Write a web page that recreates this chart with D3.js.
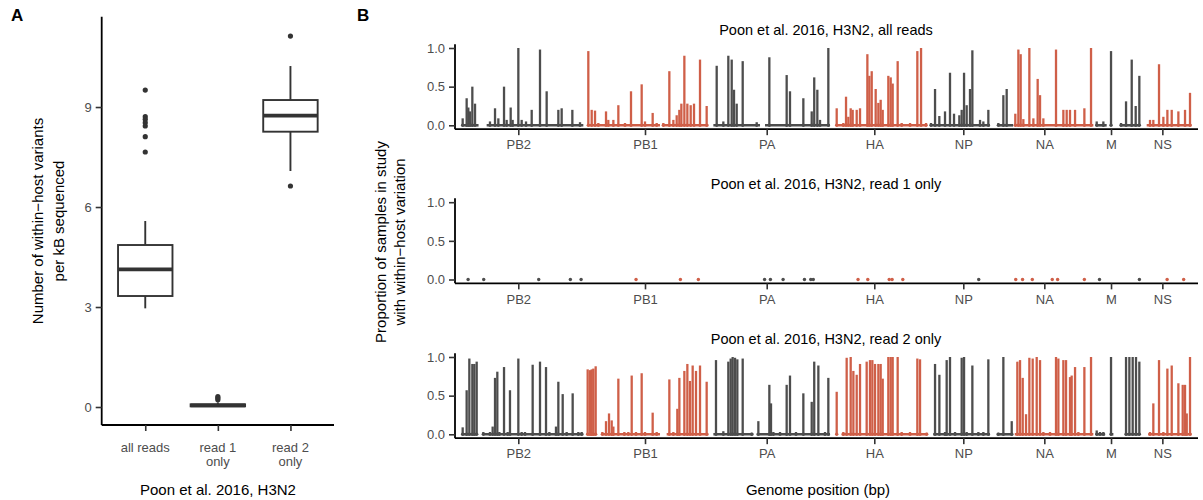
<!DOCTYPE html>
<html><head><meta charset="utf-8">
<script src="https://cdn.jsdelivr.net/npm/d3@7"></script>
<style>
body{margin:0;background:#fff;}
text{font-family:"Liberation Sans",Arial,Helvetica,sans-serif;}
</style></head>
<body><svg id="c" width="1203" height="500"></svg>
<script>
// ---------- Panel A data ----------
const boxCats = ["all reads", "read 1|only", "read 2|only"];
const boxQ1 = [3.33, 0.02, 8.26];
const boxMed = [4.13, 0.05, 8.74];
const boxQ3 = [4.86, 0.08, 9.21];
const whiskLo = [2.96, 0.0, 7.08];
const whiskHi = [5.58, 0.14, 10.23];
const outAll = [9.51, 8.71, 8.63, 8.53, 8.43, 8.11, 7.65];
const outRead1 = [0.22, 0.27, 0.31];
const outRead2 = [11.13, 6.63];
const yTicksA = [0, 3, 6, 9];

// ---------- Panel B data ----------
const segmentNames = ["PB2", "PB1", "PA", "HA", "NP", "NA", "M", "NS"];
const segmentStarts = [0, 2400, 4750, 7000, 8820, 10420, 11900, 12850];
const tickPositions = [1171, 3534, 5804, 7810, 9470, 10981, 12225, 13182];
const yTicksB = [0, 0.5, 1];
const panelTitles = ["Poon et al. 2016, H3N2, all reads", "Poon et al. 2016, H3N2, read 1 only", "Poon et al. 2016, H3N2, read 2 only"];

const topPos = [134,208,239,270,314,364,643,737,799,905,954,1029,1066,1172,1234,1315,1421,1576,1700,1918,1980,2179,2322,
 2477,2540,2602,2664,2807,2850,2944,3037,3161,3273,3472,3534,3677,3752,3876,3988,4063,4125,4174,4212,4268,4324,4386,4448,4560,4684,
 4871,4995,5088,5151,5194,5244,5356,5617,5853,6176,6238,6487,6643,6690,6748,6798,6953,
 7109,7233,7283,7326,7370,7407,7482,7544,7681,7718,7762,7836,7886,7929,7967,8072,8116,8153,8246,8321,8477,8613,8682,8775,
 8868,8943,9023,9129,9222,9297,9396,9440,9484,9533,9595,9639,9782,9844,9937,10124,10217,10279,
 10440,10497,10540,10590,10702,10777,10857,10901,10963,11199,11336,11398,11460,11554,11728,11852,
 11958,12082,12225,12412,12505,12611,12685,12753,
 12952,13014,13120,13201,13276,13357,13481,13605,13698];
const topVal = [.09,.35,.23,.18,.5,.28,.05,.22,.09,.5,.07,.23,.07,1.0,.07,.05,.2,.98,.44,.2,.22,.2,.04,
 .96,.2,.19,.03,.18,.07,.07,.26,.03,.44,.53,.05,.16,.03,.03,.7,.07,.13,.2,.28,.9,.28,.26,.28,.85,.25,
 .77,.05,.9,.85,.46,.28,.83,.04,.88,.65,.44,.35,.18,.62,.46,.07,1.0,
 .22,.03,.37,.11,.22,.2,.2,.22,.92,.64,.7,.47,.29,.33,.2,.64,.62,.54,.83,.03,.03,.96,1.0,.03,
 .03,.47,.12,.18,.68,.15,.13,.2,.68,.26,.47,.97,.07,.05,.2,.03,.39,.47,
 .15,.98,.92,.08,1.0,.09,.6,.39,.09,.98,.2,.2,.2,.2,.22,1.0,
 .05,.05,.96,.03,.31,.85,.25,.64,
 .07,.07,.79,.11,.2,.2,.18,.2,.42];
const topRunStart = [115, 581, 2465, 3864, 4809, 5772, 7109, 8849, 10124, 10430, 11958, 12393, 12890];
const topRunEnd   = [430, 2384, 3814, 4716, 5679, 6984, 8787, 9968, 10400, 11895, 12144, 12766, 13725];

const midPos = [235,526,1552,2142,2342,3367,4194,4529,5764,5873,6109,6508,6626,6672,7507,7689,8088,8142,8342,9758,10448,10575,10757,11129,11229,11728,12010,12754,13271,13580];
const midVal = [.01,.01,.01,.01,.01,.01,.01,.01,.01,.01,.01,.01,.01,.01,.01,.01,.01,.01,.01,.01,.01,.01,.01,.01,.01,.01,.01,.01,.01,.01];

const botPos = [134,208,258,314,351,395,519,643,693,737,780,818,905,973,1016,1172,1234,1296,1439,1576,1688,1750,1874,1918,1999,2073,2185,2291,2353,
 2465,2509,2540,2571,2614,2739,2807,2863,2913,2944,3037,3149,3223,3286,3366,3472,3534,3677,3752,3988,4063,4137,4175,4268,4324,4373,4423,4485,4560,4684,
 4858,4995,5088,5132,5169,5213,5256,5356,5524,5648,5853,5884,5928,6052,6176,6238,6350,6487,6643,6690,6767,6891,6953,
 7109,7233,7295,7370,7420,7482,7544,7668,7730,7774,7824,7886,7929,7967,8072,8116,8153,8246,8321,8476,8613,8663,8787,
 8943,9024,9129,9160,9222,9316,9440,9484,9533,9639,9751,9844,9937,10124,10217,10373,
 10478,10528,10578,10640,10702,10764,10839,10901,10963,11087,11199,11243,11336,11386,11460,11491,11554,11616,11728,11852,
 11958,12020,12082,12225,12505,12567,12629,12691,12753,
 12952,13014,13120,13201,13276,13357,13481,13562,13605,13637,13698];
const botVal = [.09,.57,.98,.91,.91,.94,.03,.03,.1,.73,.81,.03,.87,.03,.57,.98,.03,.03,.9,.94,.87,.03,.1,.68,.52,.03,.53,.03,.03,
 .84,.83,.84,.85,.88,.03,.17,.27,.18,.1,.72,.03,.03,.76,.03,.79,.03,.28,.03,.71,.03,.33,.73,.82,.91,.69,.89,.82,.89,.68,
 .96,.04,.94,.98,1.0,.99,.97,.98,.02,.17,.64,.4,.03,.03,.64,.76,.03,.53,.42,.94,.89,.03,.73,
 .55,.03,.99,1.0,.82,.77,.91,.94,.96,.96,.91,.91,.91,.72,1.0,1.0,1.0,1.0,.03,.03,.98,.97,.02,
 .91,.77,.03,.96,1.0,.03,.99,1.0,.03,.89,.03,.03,.97,.02,1.0,.17,
 .94,.96,.73,.26,.99,.98,1.0,.96,.03,.03,1.0,.98,.96,.96,.74,.76,.87,.03,.87,1.0,
 .05,.03,.03,1.0,1.0,1.0,1.0,1.0,.94,
 .03,.4,.96,.03,.85,.89,.66,.64,.64,.27,1.0];
const botRunStart = [115, 519, 2465, 2739, 3938, 4809, 5617, 7202, 8912, 10093, 10430, 11946, 12207, 12486, 12921];
const botRunEnd   = [395, 2384, 2614, 3814, 4716, 5555, 6984, 8787, 9968, 10400, 11895, 12114, 12269, 12766, 13725];

// ---------- drawing ----------
const svg = d3.select("#c");
const grey = "#4d4d4d", red = "#cf5f48", ink = "#333333";
const segColor = p => (d3.bisectRight(segmentStarts, p) - 1) % 2 === 0 ? grey : red;

// Panel A
const xA = d3.scalePoint().domain(boxCats).range([101.7, 334]).padding(0.6);
const yA = d3.scaleLinear().domain([-0.54, 11.71]).range([425, 16.7]);
const gA = svg.append("g");
const bw = xA.step() * 0.75;

boxCats.forEach((c, i) => {
  const cx = xA(c);
  gA.append("line").attr("x1", cx).attr("x2", cx).attr("y1", yA(whiskHi[i])).attr("y2", yA(boxQ3[i]))
    .attr("stroke", ink).attr("stroke-width", 1.9);
  gA.append("line").attr("x1", cx).attr("x2", cx).attr("y1", yA(whiskLo[i])).attr("y2", yA(boxQ1[i]))
    .attr("stroke", ink).attr("stroke-width", 1.9);
  gA.append("rect").attr("x", cx - bw / 2).attr("width", bw)
    .attr("y", yA(boxQ3[i])).attr("height", Math.max(0.5, yA(boxQ1[i]) - yA(boxQ3[i])))
    .attr("fill", "#fff").attr("stroke", ink).attr("stroke-width", 1.9);
  gA.append("line").attr("x1", cx - bw / 2).attr("x2", cx + bw / 2).attr("y1", yA(boxMed[i])).attr("y2", yA(boxMed[i]))
    .attr("stroke", ink).attr("stroke-width", 3.8);
});
[[outAll, 0], [outRead1, 1], [outRead2, 2]].forEach(([arr, i]) => {
  gA.selectAll(null).data(arr).enter().append("circle")
    .attr("cx", xA(boxCats[i])).attr("cy", d => yA(d)).attr("r", 2.6).attr("fill", ink);
});

const axAy = gA.append("g").attr("transform", "translate(101.7,0)")
  .call(d3.axisLeft(yA).tickValues(yTicksA).tickSize(6).tickPadding(4).tickFormat(d3.format("d")));
const axAx = gA.append("g").attr("transform", "translate(0,425)")
  .call(d3.axisBottom(xA).tickSize(6).tickPadding(5).tickFormat(""));
[axAy, axAx].forEach(a => {
  a.select(".domain").attr("stroke", "#000").attr("stroke-width", 1.8);
  a.selectAll(".tick line").attr("stroke", "#333").attr("stroke-width", 1.6);
  a.selectAll("text").attr("font-size", 13).attr("fill", grey).attr("font-family", "Liberation Sans, Arial, sans-serif");
});
axAy.select(".domain").attr("d", "M0,425V16.7");
axAx.select(".domain").attr("d", "M101.7,0H334");
boxCats.forEach(c => {
  const lines = c.split("|");
  const t = gA.append("text").attr("x", xA(c)).attr("y", 451.5).attr("text-anchor", "middle")
    .attr("font-size", 13).attr("fill", grey);
  lines.forEach((l, k) => t.append("tspan").attr("x", xA(c)).attr("dy", k ? 14.5 : 0).text(l));
});
gA.append("text").attr("transform", "translate(43,221) rotate(-90)").attr("text-anchor", "middle")
  .attr("font-size", 15).attr("fill", "#000").text("Number of within−host variants");
gA.append("text").attr("transform", "translate(64,221) rotate(-90)").attr("text-anchor", "middle")
  .attr("font-size", 15).attr("fill", "#000").text("per kB sequenced");
gA.append("text").attr("x", 218).attr("y", 495).attr("text-anchor", "middle")
  .attr("font-size", 15).attr("fill", "#000").text("Poon et al. 2016, H3N2");
svg.append("text").attr("x", 11).attr("y", 21).attr("font-size", 17).attr("font-weight", "bold").text("A");
svg.append("text").attr("x", 357).attr("y", 21).attr("font-size", 17).attr("font-weight", "bold").text("B");

// Panel B
const xB = d3.scaleLinear().domain([-9.3, 13847]).range([455, 1198]);
const panels = [
  {pos: topPos, val: topVal, rs: topRunStart, re: topRunEnd, y0: 125.3},
  {pos: midPos, val: midVal, rs: [], re: [], y0: 279.5},
  {pos: botPos, val: botVal, rs: botRunStart, re: botRunEnd, y0: 434.3}
];
panels.forEach((p, k) => {
  const unit = 77.3;
  const y = d3.scaleLinear().domain([-0.05, 1.05]).range([p.y0 + 0.05 * unit, p.y0 - 1.05 * unit]);
  const g = svg.append("g");
  g.selectAll(null).data(d3.range(p.rs.length)).enter().append("line")
    .attr("x1", i => xB(p.rs[i])).attr("x2", i => xB(p.re[i]))
    .attr("y1", y(0)).attr("y2", y(0))
    .attr("stroke", i => segColor(p.rs[i])).attr("stroke-width", 2.6);
  g.selectAll(null).data(d3.range(p.pos.length)).enter().append("line")
    .attr("x1", i => xB(p.pos[i])).attr("x2", i => xB(p.pos[i]))
    .attr("y1", y(0)).attr("y2", i => y(p.val[i]))
    .attr("stroke", i => segColor(p.pos[i])).attr("stroke-width", 2.3);
  g.selectAll(null).data(d3.range(p.pos.length)).enter().append("circle")
    .attr("cx", i => xB(p.pos[i])).attr("cy", y(0))
    .attr("r", 1.7).attr("fill", i => segColor(p.pos[i]));

  const ay = g.append("g").attr("transform", "translate(455,0)")
    .call(d3.axisLeft(y).tickValues(yTicksB).tickSize(6).tickPadding(4).tickFormat(d3.format(".1f")));
  const ax = g.append("g").attr("transform", `translate(0,${y(-0.05)})`)
    .call(d3.axisBottom(xB).tickValues(tickPositions).tickSize(6).tickPadding(5).tickFormat((d, i) => segmentNames[i]));
  [ay, ax].forEach(a => {
    a.select(".domain").attr("stroke", "#000").attr("stroke-width", 1.8);
    a.selectAll(".tick line").attr("stroke", "#333").attr("stroke-width", 1.6);
    a.selectAll("text").attr("font-size", 13).attr("fill", grey).attr("font-family", "Liberation Sans, Arial, sans-serif");
  });
  ay.select(".domain").attr("d", `M0,${y(-0.05)}V${y(1.05)}`);
  ax.select(".domain").attr("d", `M455,0H1198`);
  g.append("text").attr("x", 826).attr("y", y(1.05) - 9).attr("text-anchor", "middle")
    .attr("font-size", 14.5).attr("fill", "#000").text(panelTitles[k]);
});
svg.append("text").attr("transform", "translate(386,242) rotate(-90)").attr("text-anchor", "middle")
  .attr("font-size", 15).attr("fill", "#000").text("Proportion of samples in study");
svg.append("text").attr("transform", "translate(405,242) rotate(-90)").attr("text-anchor", "middle")
  .attr("font-size", 15).attr("fill", "#000").text("with within−host variation");
svg.append("text").attr("x", 818).attr("y", 495).attr("text-anchor", "middle")
  .attr("font-size", 15).attr("fill", "#000").text("Genome position (bp)");
</script></body></html>
